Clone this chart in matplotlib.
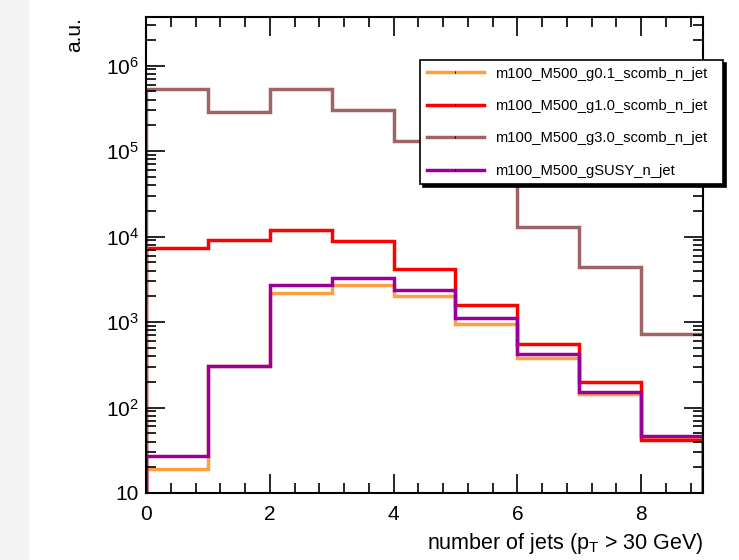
import matplotlib
matplotlib.use("Agg")
import matplotlib.pyplot as plt
from matplotlib.lines import Line2D
from matplotlib.patches import Rectangle
from matplotlib.ticker import LogLocator, MultipleLocator, NullFormatter, FuncFormatter
import numpy as np

plt.rcParams['font.family'] = ['Liberation Sans', 'DejaVu Sans']

# bin edges: number of jets 0..9
edges = np.arange(0, 10)

labels = ['m100_M500_g0.1_scomb_n_jet', 'm100_M500_g1.0_scomb_n_jet',
          'm100_M500_g3.0_scomb_n_jet', 'm100_M500_gSUSY_n_jet']
colors = ['#ffa040', '#ff0000', '#a06464', '#990099']

g01 = [19, 310, 2200, 2700, 2000, 950, 380, 145, 44]
g10 = [7300, 9100, 12000, 8900, 4200, 1580, 550, 200, 42]
g30 = [530000, 290000, 530000, 300000, 130000, 90000, 13000, 4400, 720]
gsusy = [27, 310, 2700, 3300, 2400, 1100, 420, 150, 46]
series = [g01, g10, g30, gsusy]

fig = plt.figure(figsize=(7.39, 5.6), dpi=100)
# grey strip on the left like the screenshot
fig.patches.append(Rectangle((0, 0), 28 / 739, 1, transform=fig.transFigure,
                             color='#f4f4f4', zorder=-10))
ax = fig.add_axes([146 / 739, 67 / 560, 557 / 739, 476 / 560])

for vals, c in zip(series, colors):
    ax.stairs(vals, edges, color=c, lw=2.5)

ax.set_yscale('log')
ax.set_xlim(0, 9)
ax.set_ylim(10, 3.7e6)


def ylab(v, pos):
    e = int(round(np.log10(v)))
    if e == 1:
        return '10'
    return '$\\mathregular{10^{%d}}$' % e


ax.xaxis.set_major_locator(MultipleLocator(2))
ax.xaxis.set_minor_locator(MultipleLocator(0.4))
ax.yaxis.set_major_locator(LogLocator(base=10))
ax.yaxis.set_major_formatter(FuncFormatter(ylab))
ax.yaxis.set_minor_locator(LogLocator(base=10, subs=np.arange(2, 10)))
ax.yaxis.set_minor_formatter(NullFormatter())
ax.tick_params(which='both', direction='in', top=True, right=True, labelsize=15, width=1.2)
ax.tick_params(which='major', length=14, pad=5)
ax.tick_params(axis='x', which='major', pad=9)
ax.tick_params(which='minor', length=7)
for s in ax.spines.values():
    s.set_linewidth(1.5)

ax.set_xlabel('number of jets ($\\mathregular{p_{T}}$ > 30 GeV)', fontsize=15.5,
              loc='right', labelpad=5)
ax.set_ylabel('a.u.', fontsize=15, loc='top', labelpad=16)

handles = [Line2D([0], [0], color=c, lw=2.5, marker='|', markersize=2,
                  markeredgecolor='black', markeredgewidth=0.8) for c in colors]
leg = ax.legend(handles, labels, loc='upper left', mode='expand',
                bbox_to_anchor=(420 / 739, 1 - 60 / 560, 303 / 739, 0),
                bbox_transform=fig.transFigure, fontsize=10.6, frameon=True,
                fancybox=False, edgecolor='black', framealpha=1,
                handlelength=3.9, handletextpad=0.75, labelspacing=1.25,
                borderpad=0.45, borderaxespad=0,
                shadow={'color': 'black', 'alpha': 1.0, 'ox': 2, 'oy': -2})
leg.get_frame().set_linewidth(1.2)

fig.savefig('out.png', dpi=100)
